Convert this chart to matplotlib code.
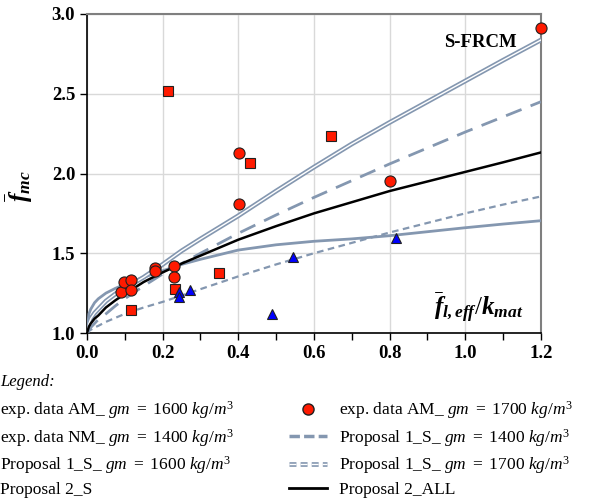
import matplotlib.pyplot as plt
import matplotlib.patheffects as pe
from matplotlib.lines import Line2D

plt.rcParams['font.family'] = ['Liberation Serif', 'DejaVu Serif']
plt.rcParams['mathtext.fontset'] = 'custom'
plt.rcParams['mathtext.rm'] = 'Liberation Serif'
plt.rcParams['mathtext.it'] = 'Liberation Serif:italic'
plt.rcParams['mathtext.bf'] = 'Liberation Serif:bold'
plt.rcParams['mathtext.bfit'] = 'Liberation Serif:italic:bold'

am1700_x = [0.089, 0.099, 0.115, 0.115, 0.181, 0.181, 0.231, 0.231, 0.401, 0.401, 0.80, 1.20]
am1700_y = [1.257, 1.32, 1.33, 1.27, 1.405, 1.39, 1.42, 1.35, 2.13, 1.81, 1.955, 2.91]

am1600_x = [0.215, 0.645, 0.431, 0.350, 0.233, 0.117]
am1600_y = [2.517, 2.235, 2.064, 1.374, 1.278, 1.146]

nm1400_x = [0.244, 0.244, 0.272, 0.489, 0.544, 0.816]
nm1400_y = [1.255, 1.228, 1.27, 1.117, 1.478, 1.598]

# model curves, points
cx = [0, 0.005, 0.01, 0.02, 0.03, 0.05, 0.075, 0.1, 0.15, 0.2, 0.25, 0.3,
      0.4, 0.5, 0.6, 0.7, 0.8, 0.9, 1.0, 1.1, 1.2]
p2_s = [1.0, 1.12, 1.15, 1.19, 1.215, 1.25, 1.28, 1.305, 1.35, 1.39, 1.43, 1.462,
        1.52, 1.553, 1.575, 1.59, 1.61, 1.635, 1.66, 1.683, 1.704]
p2_all = [1.0, 1.04, 1.06, 1.09, 1.11, 1.16, 1.205, 1.245, 1.32, 1.38, 1.435, 1.485,
          1.585, 1.67, 1.75, 1.82, 1.89, 1.95, 2.01, 2.07, 2.132]
p1_1400 = [1.0, 1.02, 1.035, 1.06, 1.085, 1.12, 1.17, 1.215, 1.295, 1.37, 1.435, 1.50,
           1.625, 1.74, 1.85, 1.955, 2.06, 2.16, 2.26, 2.355, 2.45]
p1_1600 = [1.0, 1.012, 1.02, 1.035, 1.045, 1.07, 1.095, 1.12, 1.16, 1.195, 1.235, 1.275,
           1.355, 1.43, 1.50, 1.565, 1.63, 1.69, 1.75, 1.805, 1.856]
p1_1700 = [1.0, 1.06, 1.09, 1.125, 1.15, 1.2, 1.245, 1.28, 1.35, 1.43, 1.515, 1.59,
           1.735, 1.89, 2.04, 2.185, 2.32, 2.45, 2.58, 2.71, 2.837]

gray = '#8497B0'
red = '#FF1A00'
blue = '#0000FF'

fig = plt.figure(figsize=(5.98, 5.0), dpi=100)
ax = fig.add_axes([0.1455, 0.334, 0.759, 0.638])

double_fx = [pe.Stroke(linewidth=3.4, foreground=gray), pe.Normal()]

ax.plot(cx, p2_s, color=gray, lw=2, zorder=3)
ax.plot(cx, p1_1600, color=gray, lw=1.6, dashes=(3, 2), zorder=3)
ax.plot(cx, p1_1400, color=gray, lw=2, dashes=(6, 3.5), zorder=3)
ax.plot(cx, p1_1700, color='white', lw=1.0, zorder=3, path_effects=double_fx)
ax.plot(cx, p2_all, color='black', lw=1.8, zorder=4)

mk = dict(markeredgecolor='#202020', markeredgewidth=0.8, linestyle='none',
          zorder=5, clip_on=False)
ax.plot(am1600_x, am1600_y, 's', color=red, markersize=7.5, **mk)
ax.plot(nm1400_x, nm1400_y, '^', color=blue, markersize=7.5, **mk)
ax.plot(am1700_x, am1700_y, 'o', color=red, markersize=8, **mk)

ax.set_xlim(0, 1.2)
ax.set_ylim(1.0, 3.0)
ax.set_xticks([0, 0.2, 0.4, 0.6, 0.8, 1.0, 1.2])
ax.set_xticks([0.1, 0.3, 0.5, 0.7, 0.9, 1.1], minor=True)
ax.set_yticks([1.0, 1.5, 2.0, 2.5, 3.0])
ax.xaxis.set_major_formatter(plt.FormatStrFormatter('%.1f'))
ax.yaxis.set_major_formatter(plt.FormatStrFormatter('%.1f'))
ax.tick_params(which='both', direction='out', length=5, width=1, labelsize=13.5)
for lab in ax.get_xticklabels() + ax.get_yticklabels():
    lab.set_fontweight('bold')
ax.grid(True, which='major', color='#D9D9D9', lw=1)
ax.set_axisbelow(True)
for s in ['left', 'bottom']:
    ax.spines[s].set_color('black')
    ax.spines[s].set_linewidth(1.2)
for s in ['top', 'right']:
    ax.spines[s].set_color('#7F7F7F')
    ax.spines[s].set_linewidth(1.5)

ax.set_ylabel(r'$\bar{\mathbfit{f}}_{\mathbfit{mc}}$', fontsize=18)
ax.yaxis.set_label_coords(-0.115, 0.46)
ax.text(1.035, 1.16, r'$\bar{\mathbfit{f}}_{\mathbfit{l,eff}}/\mathbfit{k}_{\mathbfit{mat}}$',
        fontsize=18, ha='center', va='center')
ax.text(1.04, 2.82, 'S-FRCM', fontsize=13.5, fontweight='bold', ha='center', va='center')

# legend, two columns, left handles run off the figure edge
fig.text(0.0, 1 - 382 / 500, 'Legend:', fontsize=12, style='italic', va='center')


def gm_text(prefix, dens):
    return prefix + r' $\mathit{gm}$ $\mathit{=}$ $\mathit{' + dens + r'}$ $\mathit{kg/m^3}$'


left_h = [
    Line2D([], [], marker='s', color=red, markersize=7.5, markeredgecolor='#202020', ls='none'),
    Line2D([], [], marker='^', color=blue, markersize=7.5, markeredgecolor='#202020', ls='none'),
    Line2D([], [], color=gray, lw=1.6, dashes=(3, 2)),
    Line2D([], [], color=gray, lw=2),
]
left_l = [
    gm_text('exp. data AM_', '1600'),
    gm_text('exp. data NM_', '1400'),
    gm_text('Proposal 1_S_', '1600'),
    'Proposal 2_S',
]
right_h = [
    Line2D([], [], marker='o', color=red, markersize=8, markeredgecolor='#202020', ls='none'),
    Line2D([], [], color=gray, lw=2.5, dashes=(3, 1.2)),
    Line2D([], [], color='white', lw=1.0, dashes=(5, 3), path_effects=double_fx),
    Line2D([], [], color='black', lw=2),
]
right_l = [
    gm_text('exp. data AM_', '1700'),
    gm_text('Proposal 1_S_', '1400'),
    gm_text('Proposal 1_S_', '1700'),
    'Proposal 2_ALL',
]
leg_kw = dict(loc='upper left', frameon=False, fontsize=12.5, borderpad=0,
              borderaxespad=0, handlelength=2.2, handletextpad=0.7, labelspacing=0.33)
fig.legend(left_h, left_l, bbox_to_anchor=(-0.084, 1 - 399 / 500), **leg_kw)
fig.legend(right_h, right_l, bbox_to_anchor=(289 / 598, 1 - 399 / 500), **leg_kw)

fig.savefig('out.png', dpi=100)
